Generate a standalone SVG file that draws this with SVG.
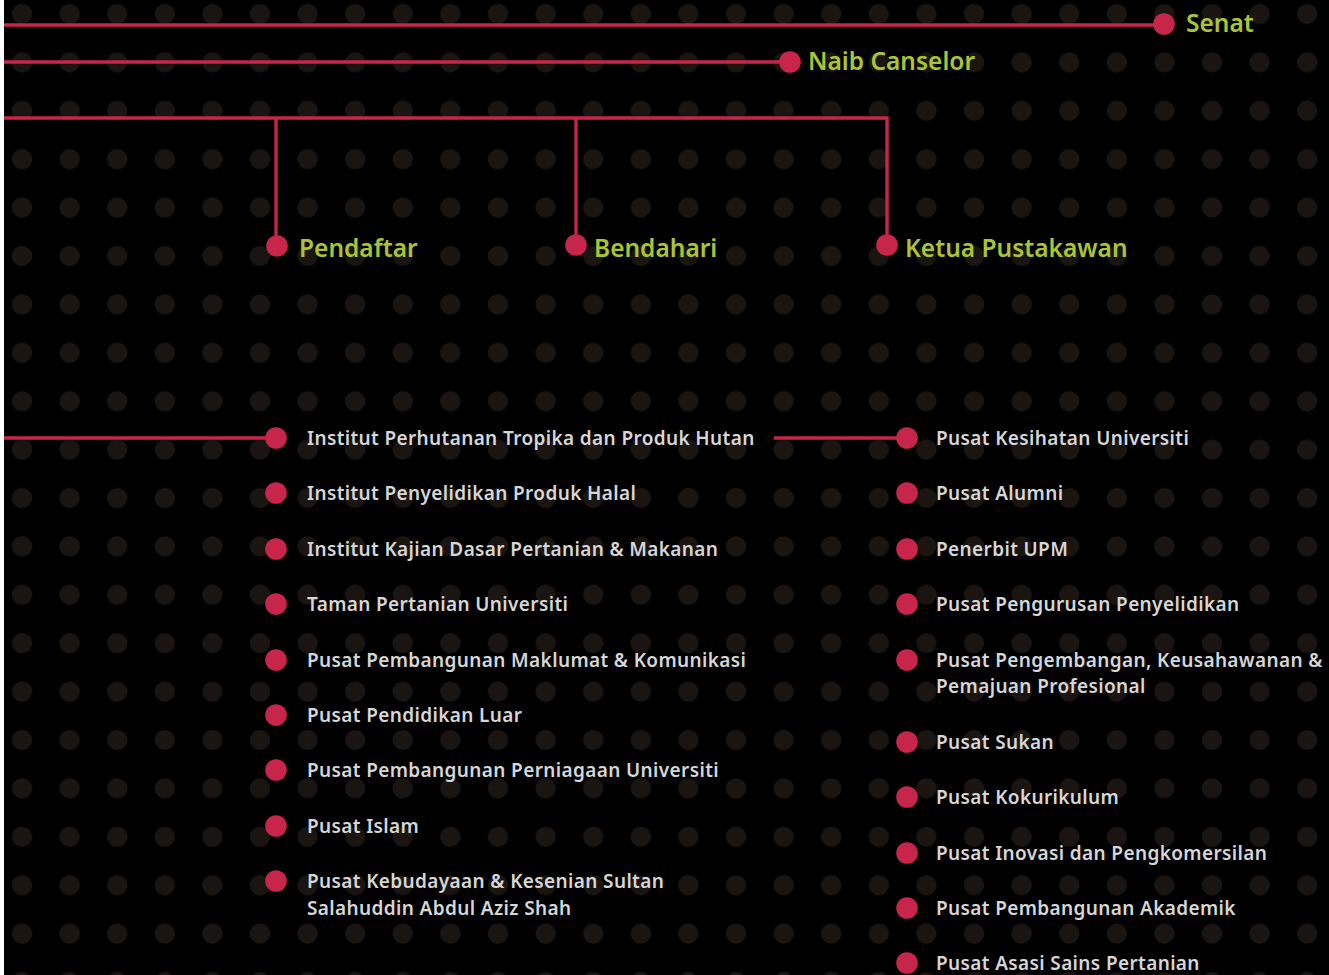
<svg xmlns="http://www.w3.org/2000/svg" width="1329" height="975" viewBox="0 0 1329 975">
<style>
.ln{stroke:#c8254b;stroke-width:3.4;fill:none}
.nd{fill:#c8254b}
.hd{font-family:"Noto Sans","Open Sans",sans-serif;font-weight:600;font-size:24.5px;fill:#a9c536}
.it{font-family:"Noto Sans","Open Sans",sans-serif;font-weight:600;font-size:19px;letter-spacing:0.37px;fill:#d6d6d6}
</style>
<defs>
<pattern id="dots" patternUnits="userSpaceOnUse" x="-1.8" y="-10.2" width="47.6" height="48.4">
<circle cx="23.8" cy="24.2" r="10.2" fill="#1b1512"/>
</pattern>
</defs>
<rect x="0" y="0" width="1329" height="975" fill="#000"/>
<rect x="0" y="0" width="1329" height="975" fill="url(#dots)"/>
<rect x="0" y="0" width="4" height="975" fill="#fff"/>
<g id="connectors">
<line class="ln" x1="4" y1="25" x2="1164" y2="25"/>
<line class="ln" x1="4" y1="62" x2="790" y2="62"/>
<polyline class="ln" points="4,118 887,118 887,245"/>
<line class="ln" x1="276" y1="118" x2="276" y2="245"/>
<line class="ln" x1="576" y1="118" x2="576" y2="245"/>
<line class="ln" x1="4" y1="438" x2="276" y2="438"/>
<line class="ln" x1="774" y1="438" x2="907" y2="438"/>
</g>
<g id="senat"><circle class="nd" cx="1164" cy="24" r="10.8"/><text class="hd" x="1186" y="32">Senat</text></g>
<g id="naib-canselor"><circle class="nd" cx="790" cy="62" r="10.8"/><text class="hd" x="808" y="70">Naib Canselor</text></g>
<g id="pendaftar"><circle class="nd" cx="277" cy="246" r="10.8"/><text class="hd" x="299" y="257">Pendaftar</text></g>
<g id="bendahari"><circle class="nd" cx="576" cy="245" r="10.8"/><text class="hd" x="594" y="257">Bendahari</text></g>
<g id="ketua-pustakawan"><circle class="nd" cx="887" cy="245" r="10.8"/><text class="hd" x="905" y="257">Ketua Pustakawan</text></g>
<g id="l1"><circle class="nd" cx="276" cy="438" r="10.8"/><text class="it" x="307" y="445">Institut Perhutanan Tropika dan Produk Hutan</text></g>
<g id="l2"><circle class="nd" cx="276" cy="493" r="10.8"/><text class="it" x="307" y="500">Institut Penyelidikan Produk Halal</text></g>
<g id="l3"><circle class="nd" cx="276" cy="549" r="10.8"/><text class="it" x="307" y="556">Institut Kajian Dasar Pertanian &amp; Makanan</text></g>
<g id="l4"><circle class="nd" cx="276" cy="604" r="10.8"/><text class="it" x="307" y="611">Taman Pertanian Universiti</text></g>
<g id="l5"><circle class="nd" cx="276" cy="660" r="10.8"/><text class="it" x="307" y="667">Pusat Pembangunan Maklumat &amp; Komunikasi</text></g>
<g id="l6"><circle class="nd" cx="276" cy="715" r="10.8"/><text class="it" x="307" y="722">Pusat Pendidikan Luar</text></g>
<g id="l7"><circle class="nd" cx="276" cy="770" r="10.8"/><text class="it" x="307" y="777">Pusat Pembangunan Perniagaan Universiti</text></g>
<g id="l8"><circle class="nd" cx="276" cy="826" r="10.8"/><text class="it" x="307" y="833">Pusat Islam</text></g>
<g id="l9"><circle class="nd" cx="276" cy="881" r="10.8"/><text class="it" x="307" y="888">Pusat Kebudayaan &amp; Kesenian Sultan</text><text class="it" x="307" y="915">Salahuddin Abdul Aziz Shah</text></g>
<g id="r1"><circle class="nd" cx="907" cy="438" r="10.8"/><text class="it" x="936" y="445">Pusat Kesihatan Universiti</text></g>
<g id="r2"><circle class="nd" cx="907" cy="493" r="10.8"/><text class="it" x="936" y="500">Pusat Alumni</text></g>
<g id="r3"><circle class="nd" cx="907" cy="549" r="10.8"/><text class="it" x="936" y="556">Penerbit UPM</text></g>
<g id="r4"><circle class="nd" cx="907" cy="604" r="10.8"/><text class="it" x="936" y="611">Pusat Pengurusan Penyelidikan</text></g>
<g id="r5"><circle class="nd" cx="907" cy="660" r="10.8"/><text class="it" x="936" y="667">Pusat Pengembangan, Keusahawanan &amp;</text><text class="it" x="936" y="693">Pemajuan Profesional</text></g>
<g id="r6"><circle class="nd" cx="907" cy="742" r="10.8"/><text class="it" x="936" y="749">Pusat Sukan</text></g>
<g id="r7"><circle class="nd" cx="907" cy="797" r="10.8"/><text class="it" x="936" y="804">Pusat Kokurikulum</text></g>
<g id="r8"><circle class="nd" cx="907" cy="853" r="10.8"/><text class="it" x="936" y="860">Pusat Inovasi dan Pengkomersilan</text></g>
<g id="r9"><circle class="nd" cx="907" cy="908" r="10.8"/><text class="it" x="936" y="915">Pusat Pembangunan Akademik</text></g>
<g id="r10"><circle class="nd" cx="907" cy="963" r="10.8"/><text class="it" x="936" y="970">Pusat Asasi Sains Pertanian</text></g>
</svg>
